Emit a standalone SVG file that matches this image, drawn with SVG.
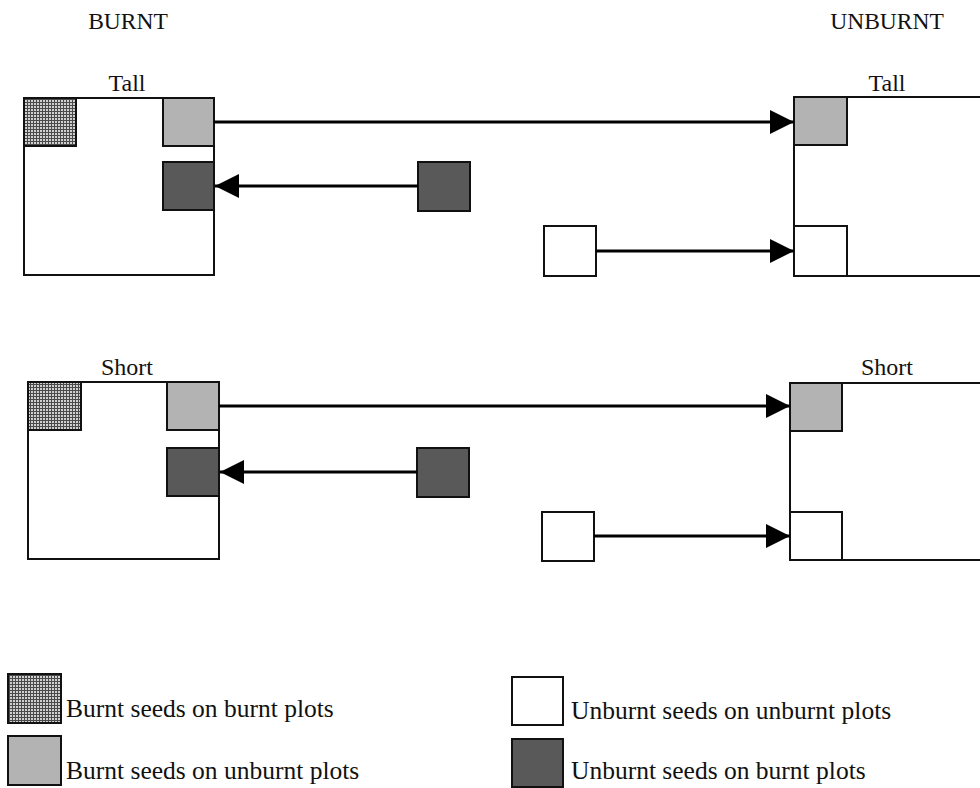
<svg xmlns="http://www.w3.org/2000/svg" width="980" height="788" viewBox="0 0 980 788">
<style>
.t{font-family:"Liberation Serif","Times New Roman",serif;fill:#111;}
.hdr{font-size:23.5px;}
.lbl{font-size:24px;}
.leg{font-size:25.5px;}
.box{fill:#fff;stroke:#111;stroke-width:2;}
.hat{fill:url(#grid);stroke:#111;stroke-width:2;}
.lg{fill:#b3b3b3;stroke:#111;stroke-width:2;}
.dk{fill:#595959;stroke:#111;stroke-width:2;}
.wh{fill:#fff;stroke:#111;stroke-width:2;}
.conn{stroke:#000;stroke-width:3;fill:none;marker-end:url(#ah);}
</style>
<defs>
<pattern id="grid" width="3" height="3" patternUnits="userSpaceOnUse">
<rect width="3" height="3" fill="#d0d0d0"/>
<path d="M0 0.5H3M0.5 0V3" stroke="#4a4a4a" stroke-width="1"/>
</pattern>
<marker id="ah" viewBox="0 0 24 24" refX="24" refY="12" markerWidth="24" markerHeight="24" markerUnits="userSpaceOnUse" orient="auto">
<path d="M0 0L24 12L0 24Z" fill="#000"/>
</marker>
</defs>
<rect width="980" height="788" fill="#fff"/>
<text class="t hdr" x="128" y="29" text-anchor="middle">BURNT</text>
<text class="t hdr" x="887" y="29" text-anchor="middle">UNBURNT</text>

<g id="burnt-tall">
<text class="t lbl" x="127" y="91" text-anchor="middle">Tall</text>
<rect class="box" x="24" y="98" width="190" height="177"/>
<rect class="hat" x="24" y="98" width="52" height="48"/>
<rect class="lg" x="163" y="98" width="51" height="48"/>
<rect class="dk" x="163" y="162" width="51" height="48"/>
</g>
<g id="unburnt-tall">
<text class="t lbl" x="887" y="91" text-anchor="middle">Tall</text>
<rect class="box" x="794" y="97" width="200" height="179"/>
<rect class="lg" x="794" y="97" width="53" height="48"/>
<rect class="wh" x="794" y="226" width="53" height="50"/>
</g>
<g id="mid-tall-dark"><rect class="dk" x="418" y="162" width="52" height="49"/></g>
<g id="mid-tall-white"><rect class="wh" x="544" y="226" width="52" height="50"/></g>

<g id="burnt-short">
<text class="t lbl" x="127" y="375" text-anchor="middle">Short</text>
<rect class="box" x="28" y="382" width="191" height="177"/>
<rect class="hat" x="28" y="382" width="53" height="48"/>
<rect class="lg" x="167" y="382" width="52" height="48"/>
<rect class="dk" x="167" y="448" width="52" height="48"/>
</g>
<g id="unburnt-short">
<text class="t lbl" x="887" y="375" text-anchor="middle">Short</text>
<rect class="box" x="790" y="383" width="200" height="177"/>
<rect class="lg" x="790" y="383" width="52" height="48"/>
<rect class="wh" x="790" y="512" width="52" height="48"/>
</g>
<g id="mid-short-dark"><rect class="dk" x="417" y="448" width="52" height="49"/></g>
<g id="mid-short-white"><rect class="wh" x="542" y="512" width="52" height="49"/></g>

<g id="connectors">
<line class="conn" x1="214" y1="122" x2="794" y2="122"/>
<line class="conn" x1="418" y1="186" x2="215" y2="186"/>
<line class="conn" x1="596" y1="251" x2="794" y2="251"/>
<line class="conn" x1="219" y1="406" x2="790" y2="406"/>
<line class="conn" x1="417" y1="472" x2="220" y2="472"/>
<line class="conn" x1="594" y1="536" x2="790" y2="536"/>
</g>

<g id="legend">
<rect class="hat" x="8" y="674" width="53" height="49"/>
<text class="t leg" x="66" y="717">Burnt seeds on burnt plots</text>
<rect class="lg" x="8" y="736" width="53" height="49"/>
<text class="t leg" x="66" y="779">Burnt seeds on unburnt plots</text>
<rect class="wh" x="512" y="677" width="51" height="48"/>
<text class="t leg" x="571" y="719">Unburnt seeds on unburnt plots</text>
<rect class="dk" x="512" y="739" width="51" height="48"/>
<text class="t leg" x="571" y="779">Unburnt seeds on burnt plots</text>
</g>
</svg>
